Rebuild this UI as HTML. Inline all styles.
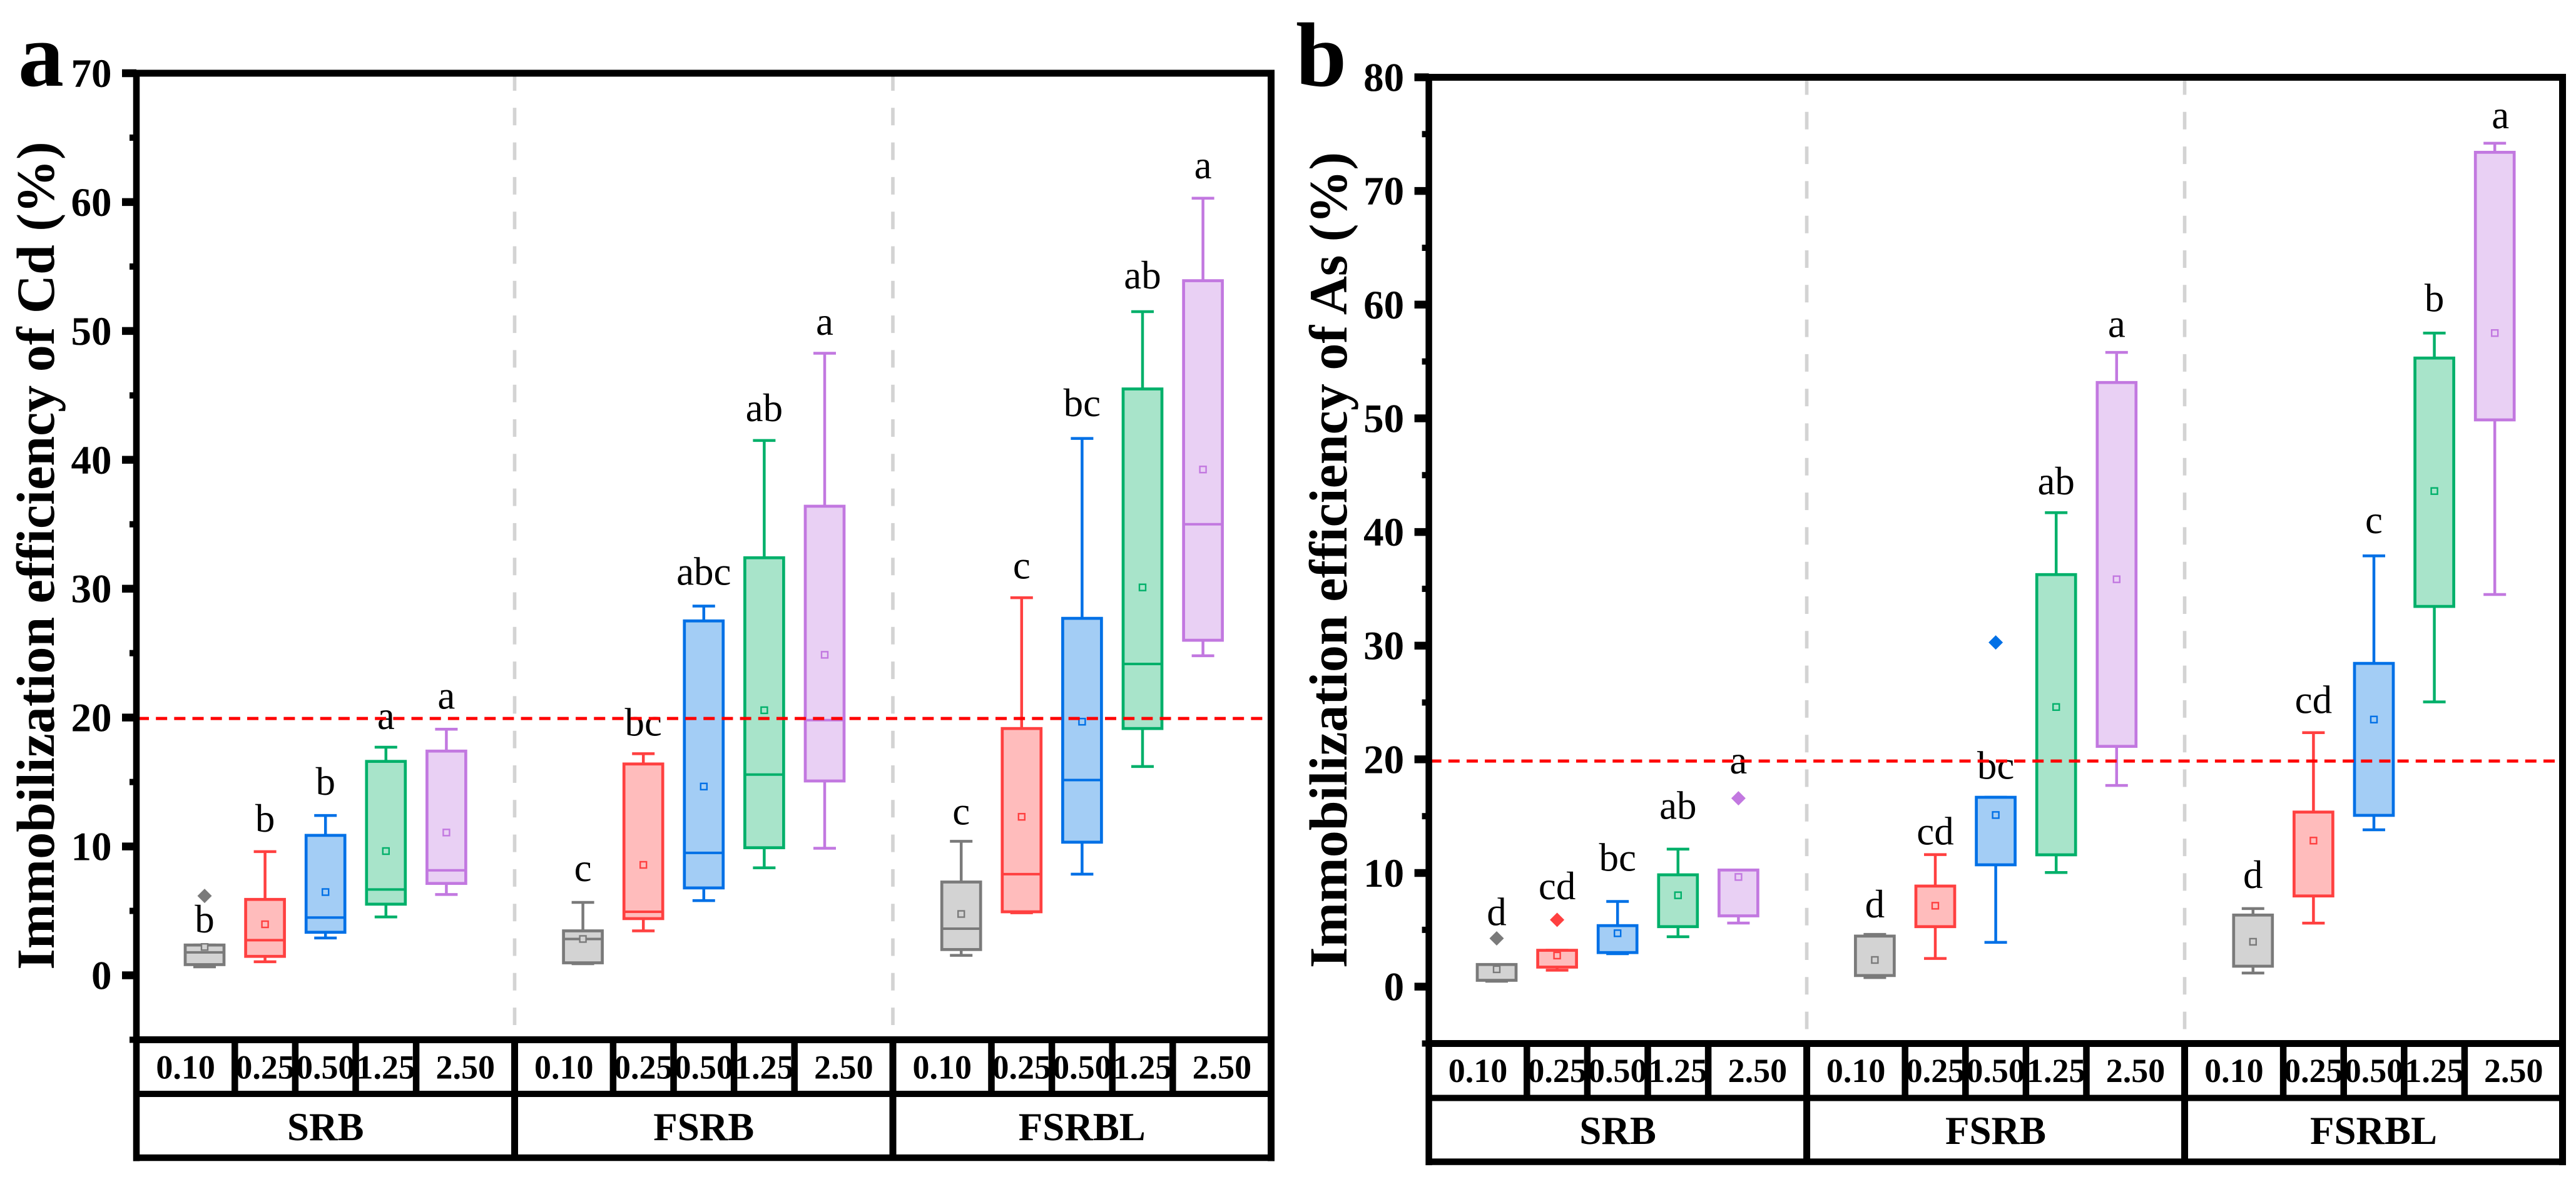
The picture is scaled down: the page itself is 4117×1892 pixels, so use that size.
<!DOCTYPE html>
<html lang="en">
<head>
<meta charset="utf-8">
<title>Immobilization efficiency of Cd and As</title>
<style>
html,body{margin:0;padding:0;background:#fff;width:4117px;height:1892px;overflow:hidden}
svg{display:block}
text{font-family:"Liberation Serif",serif;fill:#000}
</style>
</head>
<body>
<svg id="chart" xmlns="http://www.w3.org/2000/svg" width="4117" height="1892" viewBox="0 0 4117 1892">
  <rect x="0" y="0" width="4117" height="1892" fill="#ffffff"/>
  <text x="29" y="137" font-size="146" font-weight="700">a</text>
  <text x="2071" y="137" font-size="146" font-weight="700">b</text>
  <text transform="translate(86 888) rotate(-90)" text-anchor="middle" font-size="86" font-weight="700">Immobilization efficiency of Cd (%)</text>
  <text transform="translate(2152 895) rotate(-90)" text-anchor="middle" font-size="86" font-weight="700">Immobilization efficiency of As (%)</text>
  <g id="panel-a"></g>
  <g id="panel-b"></g>
</svg>
<script>
const groups = ['SRB', 'FSRB', 'FSRBL'];
const categories = ['0.10', '0.25', '0.50', '1.25', '2.50'];
const threshold = [19.93, 19.85];

const cdTicks = [0, 10, 20, 30, 40, 50, 60, 70];
const cdMinorTicks = [-5, 5, 15, 25, 35, 45, 55, 65];
const cdWhiskerHigh = [2.35, 9.6, 12.4, 17.7, 19.1, 5.66, 17.2, 28.65, 41.5, 48.27, 10.4, 29.3, 41.66, 51.5, 60.3];
const cdQ3 = [2.35, 5.89, 10.86, 16.6, 17.4, 3.45, 16.4, 27.5, 32.4, 36.4, 7.24, 19.15, 27.7, 45.5, 53.9];
const cdMedian = [1.78, 2.73, 4.48, 6.66, 8.15, 2.82, 4.93, 9.5, 15.58, 19.8, 3.62, 7.85, 15.15, 24.16, 35.0];
const cdQ1 = [0.83, 1.47, 3.34, 5.52, 7.13, 0.97, 4.4, 6.78, 9.9, 15.08, 2.0, 4.93, 10.33, 19.15, 26.0];
const cdWhiskerLow = [0.66, 1.05, 2.9, 4.53, 6.27, 0.9, 3.45, 5.8, 8.34, 9.86, 1.55, 4.85, 7.85, 16.2, 24.8];
const cdMean = [2.2, 3.96, 6.46, 9.64, 11.08, 2.82, 8.57, 14.65, 20.57, 24.87, 4.76, 12.3, 19.68, 30.1, 39.25];
const cdOutlier = [6.16, null, null, null, null, null, null, null, null, null, null, null, null, null, null];
const cdLetters = ['b', 'b', 'b', 'a', 'a', 'c', 'bc', 'abc', 'ab', 'a', 'c', 'c', 'bc', 'ab', 'a'];
const cdLetterLevel = [3.33, 11.15, 14.0, 19.1, 20.7, 7.3, 18.6, 30.3, 43.0, 49.7, 11.7, 30.8, 43.4, 53.3, 61.85];

const asTicks = [0, 10, 20, 30, 40, 50, 60, 70, 80];
const asMinorTicks = [-5, 5, 15, 25, 35, 45, 55, 65, 75];
const asWhiskerHigh = [1.95, 3.2, 7.5, 12.1, 10.26, 4.6, 11.62, 16.66, 41.7, 55.8, 6.87, 22.35, 37.9, 57.5, 74.2];
const asQ3 = [1.95, 3.2, 5.37, 9.84, 10.26, 4.45, 8.85, 16.66, 36.25, 53.15, 6.3, 15.36, 28.44, 55.3, 73.4];
const asMedian = [null, null, null, null, null, null, null, null, null, null, null, null, null, null, null];
const asQ1 = [0.56, 1.72, 3.0, 5.28, 6.23, 0.98, 5.28, 10.72, 11.6, 21.14, 1.8, 7.98, 15.07, 33.45, 49.86];
const asWhiskerLow = [0.48, 1.45, 2.9, 4.39, 5.6, 0.8, 2.48, 3.9, 10.04, 17.7, 1.2, 5.59, 13.8, 25.05, 34.5];
const asMean = [1.53, 2.74, 4.7, 8.04, 9.65, 2.35, 7.12, 15.1, 24.6, 35.84, 3.95, 12.85, 23.5, 43.6, 57.5];
const asOutlier = [4.25, 5.88, null, null, 16.57, null, null, 30.28, null, null, null, null, null, null, null];
const asLetters = ['d', 'cd', 'bc', 'ab', 'a', 'd', 'cd', 'bc', 'ab', 'a', 'd', 'cd', 'c', 'b', 'a'];
const asLetterLevel = [5.4, 7.7, 10.2, 14.76, 18.76, 6.1, 12.5, 18.3, 43.3, 57.15, 8.68, 24.06, 39.9, 59.4, 75.5];

const seriesStroke = ['#7a7a7a', '#ff4040', '#0070e6', '#00b06a', '#c278e0'];
const seriesFill = ['#d3d3d3', '#ffbcbc', '#a3cdf5', '#a8e4ca', '#e9d0f4'];

const NS = 'http://www.w3.org/2000/svg';
function make(tag, parent, attrs) {
  const el = document.createElementNS(NS, tag);
  for (const k in attrs) el.setAttribute(k, attrs[k]);
  parent.appendChild(el);
  return el;
}

function drawPanel(p) {
  const root = document.getElementById(p.id);
  const yOf = v => p.top + (p.max - v) / (p.max - p.min) * (p.bottom - p.top);
  const xOf = (g, i) => p.firstX + p.step * i + p.groupStep * g;
  const groupWidth = (p.right - p.left) / groups.length;
  const majorDivider = g => p.left + groupWidth * g;

  // group dividers
  for (let g = 1; g < groups.length; g++) {
    const el = make('line', root, { x1: majorDivider(g), x2: majorDivider(g), y1: yOf(p.max), y2: yOf(p.max) + 1521, stroke: '#d3d3d3', 'stroke-width': 5.6, 'stroke-dasharray': '28 27.3' });
    
    
  }

  // boxes
  for (let g = 0; g < groups.length; g++) {
    for (let i = 0; i < categories.length; i++) {
      const n = g * categories.length + i;
      const x = xOf(g, i);
      const stroke = seriesStroke[i];
      const fill = seriesFill[i];
      const label = groups[g] + '-' + categories[i];

      const box = make('g', root, {});
      
      

      const wh = make('line', box, { x1: x, x2: x, y1: yOf(p.whiskerHigh[n]), y2: yOf(p.q3[n]), stroke: stroke, 'stroke-width': 4.5 });
      
      

      const wl = make('line', box, { x1: x, x2: x, y1: yOf(p.q1[n]), y2: yOf(p.whiskerLow[n]), stroke: stroke, 'stroke-width': 4.5 });
      
      

      const ch = make('line', box, { x1: x - 18, x2: x + 18, y1: yOf(p.whiskerHigh[n]), y2: yOf(p.whiskerHigh[n]), stroke: stroke, 'stroke-width': 4.5 });
      
      

      const cl = make('line', box, { x1: x - 18, x2: x + 18, y1: yOf(p.whiskerLow[n]), y2: yOf(p.whiskerLow[n]), stroke: stroke, 'stroke-width': 4.5 });
      
      

      const r = make('rect', box, { x: x - 31, width: 62, y: yOf(p.q3[n]), height: yOf(p.q1[n]) - yOf(p.q3[n]), fill: fill, stroke: stroke, 'stroke-width': 4.7 });
      
      

      if (p.median[n] !== null) {
        const m = make('line', box, { x1: x - 31, x2: x + 31, y1: yOf(p.median[n]), y2: yOf(p.median[n]), stroke: stroke, 'stroke-width': 4 });
        
        
      }

      const mean = make('rect', box, { x: x - 5, y: yOf(p.mean[n]) - 5, width: 10, height: 10, fill: fill, stroke: stroke, 'stroke-width': 2.4 });
      
      

      if (p.outlier[n] !== null) {
        const oy = yOf(p.outlier[n]);
        const d = make('polygon', box, { points: [x - 11.5, oy, x, oy - 11.5, x + 11.5, oy, x, oy + 11.5].join(' '), fill: stroke });
        
        
      }

      const t = make('text', root, { x: x + (n === p.shiftedLetter ? 9 : 0), y: yOf(p.letterLevel[n]), 'text-anchor': 'middle', 'font-size': 63 });
      t.textContent = p.letters[n];
      
      

      const edgeL = i === 0 ? majorDivider(g) : x - p.step / 2;
      const edgeR = i === categories.length - 1 ? majorDivider(g + 1) : x + p.step / 2;
      const ct = make('text', root, { x: (edgeL + edgeR) / 2, y: p.row1Base, 'text-anchor': 'middle', 'font-size': 54, 'font-weight': 700 });
      ct.textContent = categories[i];
      
      
    }
    const gt = make('text', root, { x: majorDivider(g) + groupWidth / 2, y: p.row2Base, 'text-anchor': 'middle', 'font-size': 63, 'font-weight': 700 });
    gt.textContent = groups[g];
    
    
  }

  // threshold
  const th = make('line', root, { x1: p.left + 2, x2: p.right - 3, y1: yOf(p.threshold), y2: yOf(p.threshold), stroke: '#ff0000', 'stroke-width': 5, 'stroke-dasharray': '18 11.17' });
  
  

  // frame
  const ax = { stroke: '#000', 'stroke-width': 10.5 };
  const leftAxis = make('line', root, Object.assign({ x1: p.left, x2: p.left, y1: yOf(p.max), y2: p.row3 + 5.5 }, ax));
  
  

  const rightAxis = make('line', root, { x1: p.right, x2: p.right, y1: yOf(p.max) - 5.5, y2: p.row3 + 5.5, stroke: '#000', 'stroke-width': 11 });
  
  

  const topLine = make('line', root, { x1: p.left - 23, x2: p.right + 5.5, y1: yOf(p.max), y2: yOf(p.max), stroke: '#000', 'stroke-width': 11 });
  
  

  const baseLine = make('line', root, { x1: p.left, x2: p.right + 5.5, y1: yOf(p.min), y2: yOf(p.min), stroke: '#000', 'stroke-width': 11 });
  
  

  const row2Line = make('line', root, { x1: p.left, x2: p.right, y1: p.row2, y2: p.row2, stroke: '#000', 'stroke-width': 10 });
  
  

  const row3Line = make('line', root, { x1: p.left, x2: p.right + 5.5, y1: p.row3, y2: p.row3, stroke: '#000', 'stroke-width': 10.5 });
  
  

  for (let g = 0; g < groups.length; g++) {
    for (let i = 0; i < categories.length - 1; i++) {
      const sx = xOf(g, i) + p.step / 2;
      const s = make('line', root, { x1: sx, x2: sx, y1: yOf(p.min), y2: p.row2, stroke: '#000', 'stroke-width': 10.5 });
      
      
    }
    if (g > 0) {
      const s2 = make('line', root, { x1: majorDivider(g), x2: majorDivider(g), y1: yOf(p.min), y2: p.row3, stroke: '#000', 'stroke-width': 11 });
      
      
    }
  }

  // ticks
  p.ticks.forEach(v => {
    const tk = make('line', root, { x1: p.left - 23, x2: p.left, y1: yOf(v), y2: yOf(v), stroke: '#000', 'stroke-width': 12.5 });
    
    

    const tl = make('text', root, { x: p.left - 39.5, y: yOf(v) + 22, 'text-anchor': 'end', 'font-size': 65, 'font-weight': 700 });
    tl.textContent = String(v);
    
    
  });
  p.minorTicks.forEach(v => {
    const mt = make('line', root, { x1: p.left - 11, x2: p.left, y1: yOf(v), y2: yOf(v), stroke: '#000', 'stroke-width': 10 });
    
    
  });
}

drawPanel({
  id: 'panel-a', key: 'cd', max: 70, min: -5, top: 117, bottom: 1661.5,
  left: 218, right: 2031.5, firstX: 327, step: 96.6, groupStep: 604.6,
  row2: 1748, row3: 1850, row1Base: 1723.5, row2Base: 1822, shiftedLetter: -1,
  ticks: cdTicks, minorTicks: cdMinorTicks, threshold: threshold[0],
  whiskerHigh: cdWhiskerHigh, q3: cdQ3, median: cdMedian, q1: cdQ1, whiskerLow: cdWhiskerLow,
  mean: cdMean, outlier: cdOutlier, letters: cdLetters, letterLevel: cdLetterLevel
});
drawPanel({
  id: 'panel-b', key: 'as', max: 80, min: -5, top: 123.5, bottom: 1667.5,
  left: 2283.6, right: 4095.5, firstX: 2392, step: 96.6, groupStep: 604.4,
  row2: 1754.5, row3: 1856.5, row1Base: 1728.8, row2Base: 1828, shiftedLetter: 14,
  ticks: asTicks, minorTicks: asMinorTicks, threshold: threshold[1],
  whiskerHigh: asWhiskerHigh, q3: asQ3, median: asMedian, q1: asQ1, whiskerLow: asWhiskerLow,
  mean: asMean, outlier: asOutlier, letters: asLetters, letterLevel: asLetterLevel
});
</script>
</body>
</html>
